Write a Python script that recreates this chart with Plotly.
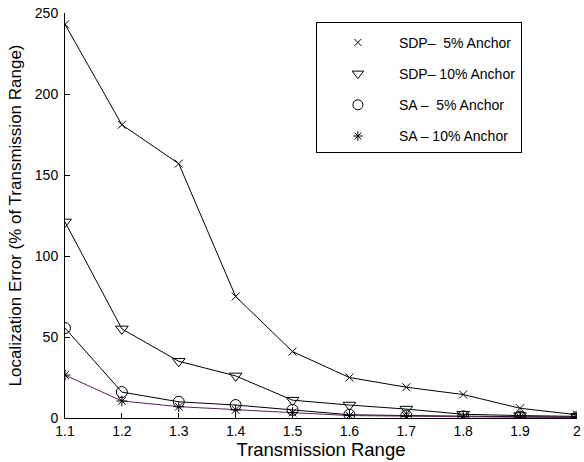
import plotly.graph_objects as go

x = [1.1, 1.2, 1.3, 1.4, 1.5, 1.6, 1.7, 1.8, 1.9, 2.0]
sdp5 = [243, 181, 157, 75, 41, 25, 19, 14.5, 6, 2]
sdp10 = [121, 55, 35, 26, 11, 8, 5.5, 2.3, 1.5, 1]
sa5 = [55.5, 16, 10, 8, 5, 2, 1.5, 1, 0.8, 0.5]
sa10 = [26.5, 10.5, 7, 5, 3.3, 1.5, 1, 0.8, 0.5, 0.3]
names = ["SDP\u2013  5% Anchor", "SDP\u2013 10% Anchor", "SA \u2013  5% Anchor", "SA \u2013 10% Anchor"]
xticks = [1.1, 1.2, 1.3, 1.4, 1.5, 1.6, 1.7, 1.8, 1.9, 2]
xticklabels = ["1.1", "1.2", "1.3", "1.4", "1.5", "1.6", "1.7", "1.8", "1.9", "2"]
yticks = [0, 50, 100, 150, 200, 250]

series = [sdp5, sdp10, sa5, sa10]
symbols = ["x-thin-open", "triangle-down-open", "circle-open", "asterisk-open"]
msizes = [8, 11, 11, 9]
lcolors = ["black", "black", "black", "#5e1f5e"]

fig = go.Figure()
for i, (ys, nm, sym, ms, lc) in enumerate(zip(series, names, symbols, msizes, lcolors)):
    fig.add_trace(go.Scatter(
        x=x, y=ys, mode="lines+markers", showlegend=False,
        line=dict(color=lc, width=1),
        marker=dict(symbol=sym, size=ms, color="black", line=dict(color="black", width=1)),
    ))
for i, (nm, sym, ms) in enumerate(zip(names, symbols, msizes)):
    fig.add_trace(go.Scatter(
        x=[None], y=[None], mode="markers", name=nm, legendgroup="g%d" % i,
        marker=dict(symbol=sym, size=ms - 1, color="black", line=dict(color="black", width=1)),
    ))

fig.update_layout(
    width=584, height=462,
    margin=dict(l=65, r=7, t=13, b=44),
    paper_bgcolor="white", plot_bgcolor="white",
    font=dict(family="Liberation Sans, Arial, sans-serif", size=14, color="black"),
    showlegend=True,
    legend=dict(
        x=0.490, y=0.978, xanchor="left", yanchor="top",
        bordercolor="black", borderwidth=1, bgcolor="white",
        font=dict(size=14), itemwidth=72, tracegroupgap=10,
        entrywidth=257,
        title=dict(text=" ", font=dict(size=3)),
    ),
    xaxis=dict(
        range=[1.1, 2.0001], tickvals=xticks, ticktext=xticklabels,
        showline=True, linecolor="black", linewidth=1,
        ticks="inside", ticklen=5, tickcolor="black",
        showgrid=False, zeroline=False, automargin=False,
        ticklabeloverflow="allow",
        title=dict(text="Transmission Range", font=dict(size=18.5), standoff=4),
    ),
    yaxis=dict(
        range=[0, 250], tickvals=yticks,
        showline=True, linecolor="black", linewidth=1,
        ticks="inside", ticklen=5, tickcolor="black",
        showgrid=False, zeroline=False, automargin=False,
        ticklabeloverflow="allow", ticklabelstandoff=3,
        title=dict(text="Localization Error (% of Transmission Range)", font=dict(size=17), standoff=8),
    ),
)
fig.write_html("out.html", post_script="document.body.style.margin='0';",
               config={"displayModeBar": False})
